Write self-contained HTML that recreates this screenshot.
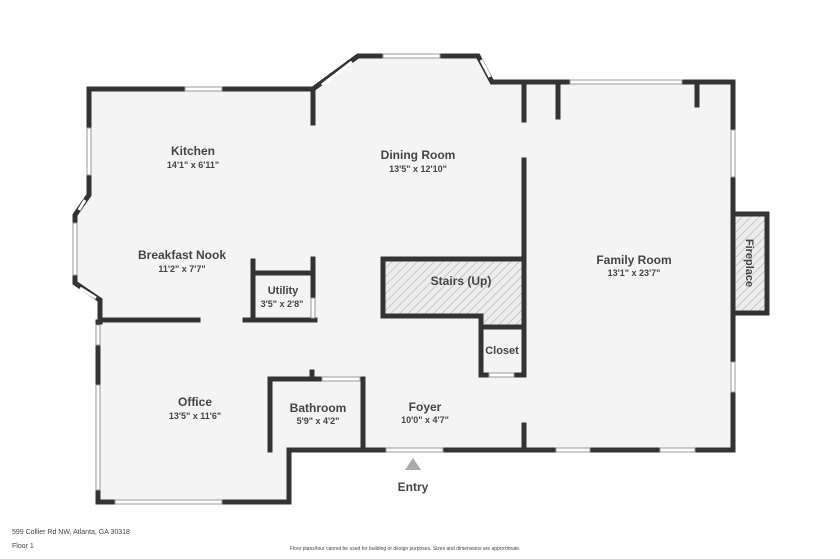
<!DOCTYPE html>
<html><head><style>body{margin:0;background:#fff}svg{display:block}text{font-family:"Liberation Sans",sans-serif;fill:#444;text-anchor:middle}</style></head><body>
<svg width="840" height="559" viewBox="0 0 840 559">
<defs><pattern id="h" width="6" height="6" patternUnits="userSpaceOnUse" patternTransform="rotate(45)"><rect width="6" height="6" fill="#ececec"/><line x1="0" y1="0" x2="0" y2="6" stroke="#aaa" stroke-width="1"/></pattern></defs>
<polygon points="89,89 313,89 358,56 478,56 492,82 733,82 733,450 289,450 289,502 98,502 98,322 100,300 75,283 75,215 89,195" fill="#f4f4f4"/>
<rect x="383" y="259" width="141" height="57" fill="url(#h)"/><rect x="481" y="316" width="43" height="11" fill="url(#h)"/>
<rect x="733" y="214" width="34" height="99" fill="url(#h)"/>
<g stroke="#333" stroke-width="5" fill="none" stroke-linecap="square">
<polyline points="313,123 313,89 89,89 89,195 75,215 75,283 100,300 100,322"/>
<polyline points="313,89 358,56 478,56 492,82 733,82 733,450 289,450 289,502 98,502 98,322"/>
<line x1="524" y1="82" x2="524" y2="120"/><line x1="558" y1="82" x2="558" y2="117"/><line x1="697" y1="82" x2="697" y2="105"/>
<line x1="524" y1="160" x2="524" y2="375"/><line x1="524" y1="425" x2="524" y2="450"/>
<polyline points="524,259 383,259 383,316 481,316 481,375 489,375"/>
<line x1="481" y1="327" x2="524" y2="327"/><line x1="514" y1="375" x2="524" y2="375"/>
<polyline points="733,214 767,214 767,313 733,313"/>
<line x1="100" y1="320" x2="198" y2="320"/>
<polyline points="253,261 253,320"/><line x1="245" y1="320" x2="315" y2="320"/><line x1="253" y1="273" x2="313" y2="273"/><line x1="313" y1="259" x2="313" y2="298"/>
<polyline points="322,379 270,379 270,450"/><line x1="312" y1="372" x2="312" y2="379"/><line x1="363" y1="379" x2="363" y2="450"/>
</g>
<g fill="#fff" stroke="#999" stroke-width="1">
<rect x="185" y="87" width="37" height="4"/><rect x="383" y="54" width="57" height="4"/><rect x="570" y="80" width="112" height="4"/>
<rect x="731" y="130" width="4" height="47"/><rect x="731" y="362" width="4" height="30"/>
<rect x="87" y="128" width="4" height="47"/><rect x="73" y="223" width="4" height="52"/>
<rect x="96" y="325" width="4" height="20"/><rect x="96" y="385" width="4" height="105"/>
<rect x="115" y="500" width="107" height="4"/><rect x="556" y="448" width="34" height="4"/><rect x="660" y="448" width="35" height="4"/>
<rect x="386" y="448" width="57" height="4"/><rect x="322" y="377" width="38" height="4"/><rect x="489" y="373" width="25" height="4"/><rect x="311" y="298" width="4" height="20"/>
</g>
<g stroke="#fff" stroke-width="3"><line x1="322" y1="85" x2="352" y2="62"/><line x1="481" y1="60" x2="490" y2="77"/><line x1="85" y1="200" x2="79" y2="210"/><line x1="80" y1="288" x2="96" y2="298"/></g>
<polygon points="413,458 405,470 421,470" fill="#aaa"/>
<g font-weight="bold" font-size="12">
<text x="193" y="155">Kitchen</text><text x="418" y="159">Dining Room</text><text x="182" y="259">Breakfast Nook</text>
<text x="283" y="294" font-size="11">Utility</text><text x="461" y="285">Stairs (Up)</text><text x="502" y="354" font-size="11">Closet</text>
<text x="634" y="264">Family Room</text><text x="195" y="406">Office</text><text x="318" y="412">Bathroom</text><text x="425" y="411">Foyer</text><text x="413" y="491">Entry</text>
<text transform="translate(746,263) rotate(90)" font-size="11">Fireplace</text></g>
<g font-size="9" font-weight="bold">
<text x="193" y="168">14'1" x 6'11"</text><text x="418" y="172">13'5" x 12'10"</text><text x="182" y="272">11'2" x 7'7"</text>
<text x="282" y="307">3'5" x 2'8"</text><text x="634" y="276">13'1" x 23'7"</text><text x="195" y="419">13'5" x 11'6"</text>
<text x="318" y="424">5'9" x 4'2"</text><text x="425" y="423">10'0" x 4'7"</text></g>
<text x="12" y="534" font-size="7" style="text-anchor:start">599 Collier Rd NW, Atlanta, GA 30318</text>
<text x="12" y="548" font-size="7" style="text-anchor:start">Floor 1</text>
<text x="290" y="550" font-size="5" style="text-anchor:start">Floor plans/tour cannot be used for building or design purposes. Sizes and dimensions are approximate.</text>
</svg></body></html>
